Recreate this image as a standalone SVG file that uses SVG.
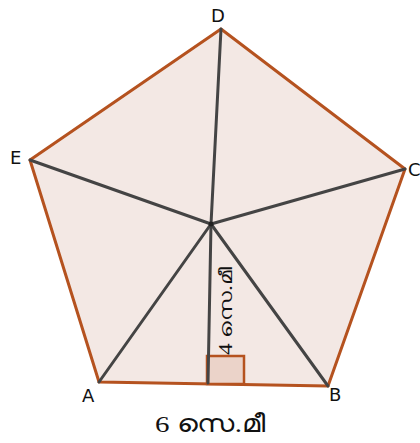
<svg xmlns="http://www.w3.org/2000/svg" width="420" height="443" viewBox="0 0 420 443">
<style>
.lbl{font-family:"DejaVu Sans","Noto Sans",sans-serif;font-size:18px;fill:#111}
.ml{font-family:"Liberation Serif","Noto Sans",serif;fill:#111}
.sp{stroke:#444;stroke-width:3;fill:none;stroke-linecap:round}
</style>
<rect width="420" height="443" fill="#fff"/>
<g id="pentagon"><polygon points="221,29 405,169 328,386 99,382 30,160" fill="#f3e8e4" stroke="#b5521f" stroke-width="3" stroke-linejoin="round"/></g>
<g id="right-angle"><rect x="207" y="356" width="37" height="28" fill="#ebd3c9" stroke="#b5521f" stroke-width="2.5"/></g>
<g id="connectors">
<line class="sp" x1="211" y1="224" x2="221" y2="29"/>
<line class="sp" x1="211" y1="224" x2="405" y2="169"/>
<line class="sp" x1="211" y1="224" x2="328" y2="386"/>
<line class="sp" x1="211" y1="224" x2="99" y2="382"/>
<line class="sp" x1="211" y1="224" x2="30" y2="160"/>
<line class="sp" x1="211" y1="224" x2="208" y2="383"/>
</g>
<g id="center"><circle cx="211" cy="224" r="2.5" fill="#222"/></g>
<g id="D"><text class="lbl" x="211" y="22">D</text></g>
<g id="E"><text class="lbl" x="10" y="164">E</text></g>
<g id="C"><text class="lbl" x="408" y="176">C</text></g>
<g id="A"><text class="lbl" x="82" y="402">A</text></g>
<g id="B"><text class="lbl" x="329" y="401">B</text></g>
<g id="height-label"><text class="ml" font-size="18" textLength="88" lengthAdjust="spacingAndGlyphs" transform="translate(232,355) rotate(-90)">4 സെ.മീ</text></g>
<g id="base-label"><text class="ml" font-size="24" x="155" y="432" textLength="110" lengthAdjust="spacingAndGlyphs">6 സെ.മീ</text></g>
</svg>
